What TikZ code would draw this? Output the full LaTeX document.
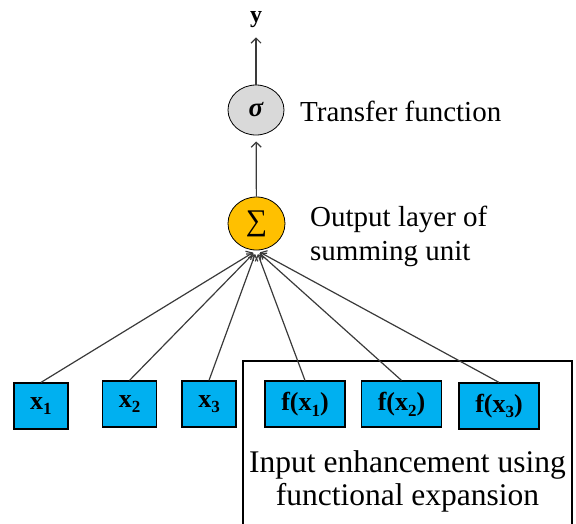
\documentclass[tikz,border=0pt]{standalone}
\usepackage{fontspec}
\setmainfont{Liberation Serif}
\usetikzlibrary{arrows.meta,shapes.geometric}
\definecolor{boxblue}{HTML}{00B0F0}
\definecolor{sumorange}{HTML}{FFC000}
\definecolor{siggray}{HTML}{D9D9D9}
\definecolor{linegray}{HTML}{3A3A3A}
\newcommand\lowidx[1]{\raisebox{-0.22em}{\fontsize{17}{17}\selectfont #1}}
\begin{document}
\begin{tikzpicture}[x=1pt,y=-1pt,
  inbox/.style={draw=black, line width=1.2pt, fill=boxblue, minimum width=54pt, minimum height=46pt, inner sep=0pt, font=\fontsize{26}{30}\selectfont\bfseries},
  funbox/.style={inbox, minimum width=80pt},
  conn/.style={draw=linegray, line width=1.2pt, shorten >=6pt, -{Straight Barb[length=5pt,width=10pt]}},
  lbl/.style={font=\fontsize{29}{34}\selectfont}]
\useasboundingbox (0,0) rectangle (576,523);
% enhancement frame
\draw[line width=1.5pt] (243,530) -- (243,361) -- (572,361) -- (572,530);
% units
\node[ellipse, draw=black, line width=0.8pt, fill=sumorange, minimum width=57pt, minimum height=53pt, inner sep=0pt, font=\fontsize{30}{30}\selectfont] (sum) at (256.5,223.5) {∑};
\node[ellipse, draw=black, line width=0.8pt, fill=siggray, minimum width=56pt, minimum height=50pt, inner sep=0pt, font=\fontsize{27}{27}\selectfont\bfseries\itshape] (sig) at (256,110) {σ};
\node[font=\fontsize{24}{24}\selectfont\bfseries, inner ysep=9pt] (ylab) at (256,20) {y};
% labels
\node[lbl, anchor=base west, inner sep=0pt] (tf) at (300,121) {Transfer function};
\node[lbl, anchor=west, align=left, inner sep=0pt] (ol) at (310,236) {Output layer of\\summing unit};
\node[font=\fontsize{31.5}{33}\selectfont, align=center, inner sep=0pt] (ie) at (407.5,481) {Input enhancement using\\functional expansion};
% inputs
\node[inbox] (x1) at (41,406) {x\lowidx{1}};
\node[inbox] (x2) at (129.5,404) {x\lowidx{2}};
\node[inbox] (x3) at (209,404) {x\lowidx{3}};
\node[funbox] (f1) at (305,404) {f(x\lowidx{1})};
\node[funbox] (f2) at (401.5,404) {f(x\lowidx{2})};
\node[funbox] (f3) at (499,406) {f(x\lowidx{3})};
% connectors
\foreach \n in {x1,x2,x3,f1,f2,f3}
  \draw[conn, shorten >=4pt] (\n.north) -- (sum.south);
\draw[conn] (sum) -- (sig);
\draw[conn, shorten >=0pt] (sig) -- (ylab);
\end{tikzpicture}
\end{document}
